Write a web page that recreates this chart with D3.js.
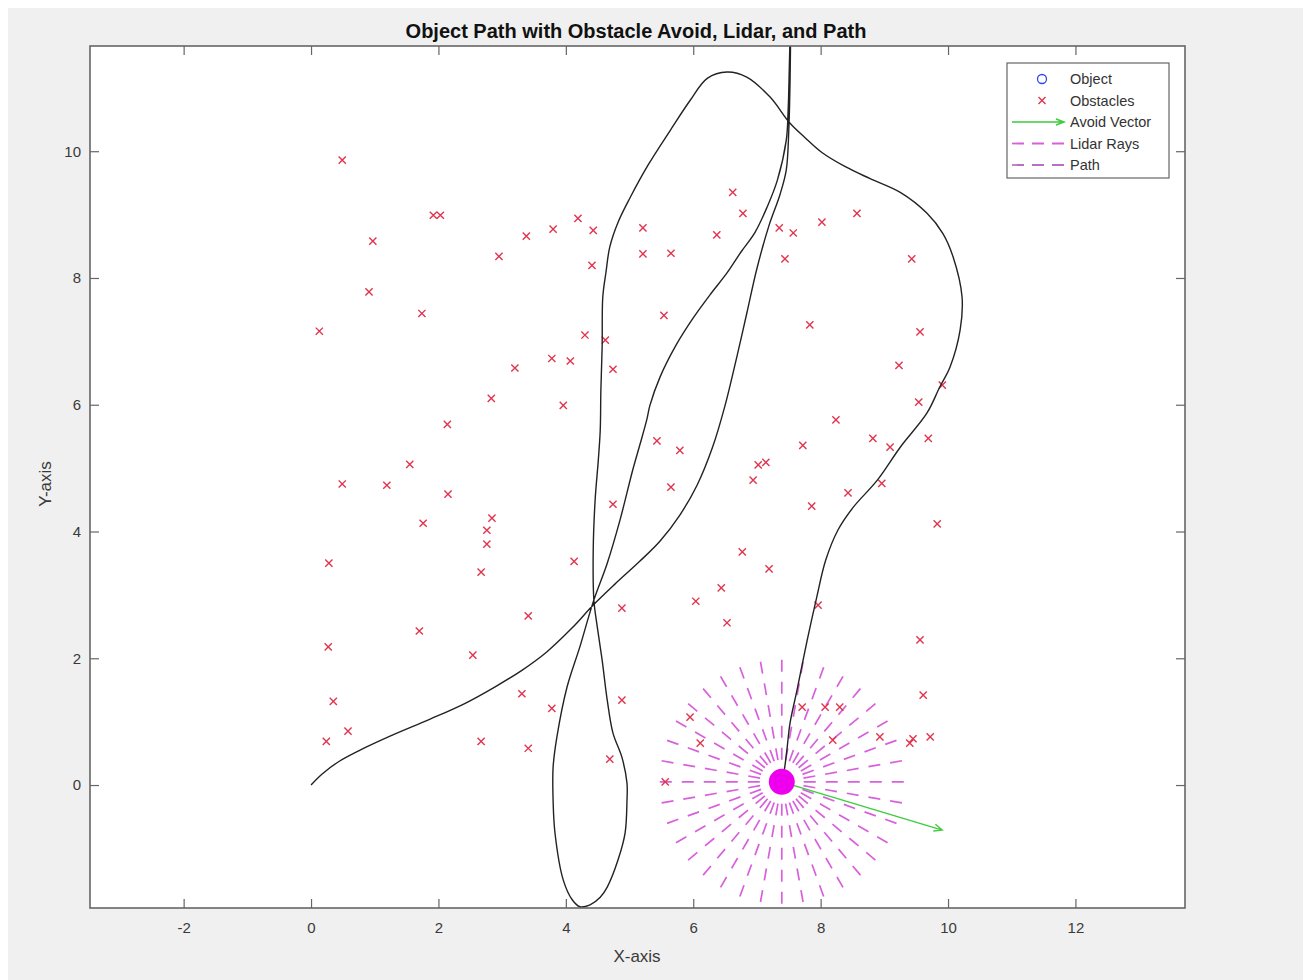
<!DOCTYPE html>
<html><head><meta charset="utf-8">
<script src="https://cdn.jsdelivr.net/npm/d3@7"></script>
<style>body{margin:0;background:#fff;} text{font-family:"Liberation Sans",Arial,sans-serif;}</style>
</head><body><svg id="c" width="1303" height="980"></svg>
<script>
const titleText = "Object Path with Obstacle Avoid, Lidar, and Path";
const xLabel = "X-axis", yLabel = "Y-axis";
const xTicks = [-2, 0, 2, 4, 6, 8, 10, 12];
const yTicks = [0, 2, 4, 6, 8, 10];
const xDomain = [-3.47, 13.72];
const yDomain = [-1.94, 11.66];
const legendLabels = ["Object", "Obstacles", "Avoid Vector", "Lidar Rays", "Path"];

const obsX = [0.49,1.92,2.03,0.97,0.91,1.74,0.13,4.19,3.80,3.38, 2.95,4.43,4.41,5.21,5.21,5.65,6.62,6.78,6.37,7.35, 7.57,7.44,8.02,8.57,9.43,5.54,4.30,4.62,3.78,4.07, 4.74,3.20,2.83,3.96,2.14,7.83,9.56,9.23,9.91,9.54, 8.24,5.43,5.79,7.72,8.82,9.09,9.69,7.02,7.14,6.94, 5.65,4.74,7.86,8.43,8.96,9.83,1.55,0.49,1.19,2.15, 1.76,2.84,2.76,2.76,2.67,0.28,4.13,6.77,7.19,6.44, 6.04,4.88,3.41,6.53,7.96,9.56,1.70,2.54,0.27,0.35, 3.31,4.88,3.78,5.95,7.71,8.07,8.30,9.61,0.58,0.24, 2.67,3.41,4.69,8.93,9.40,9.45,9.72,8.19,5.56,6.11];
const obsY = [9.86,8.99,8.99,8.58,7.78,7.44,7.16,8.94,8.77,8.66, 8.34,8.75,8.20,8.79,8.38,8.39,9.35,9.02,8.68,8.79, 8.71,8.30,8.88,9.02,8.30,7.41,7.10,7.02,6.73,6.69, 6.56,6.58,6.10,5.99,5.69,7.26,7.15,6.62,6.31,6.04, 5.76,5.43,5.28,5.36,5.47,5.33,5.47,5.05,5.09,4.81, 4.70,4.43,4.40,4.61,4.76,4.12,5.06,4.75,4.73,4.59, 4.13,4.21,4.02,3.80,3.36,3.50,3.53,3.68,3.41,3.11, 2.90,2.79,2.67,2.56,2.84,2.29,2.43,2.05,2.18,1.32, 1.44,1.34,1.21,1.07,1.23,1.23,1.23,1.42,0.85,0.69, 0.69,0.58,0.41,0.76,0.66,0.73,0.76,0.71,0.05,0.66];

const pathX = [0,0.17,0.42,0.77,1.24,1.87,2.42,2.89,3.31,3.70,4.10,4.43,4.77,5.16,5.48,5.79,6.06,6.30,6.50,6.69,6.84,7.00,7.19,7.36,7.46,7.50,7.52,7.53,
 7.51,7.49,7.46,7.32,7.16,6.97,6.75,6.53,6.26,6.00,5.73,5.48,5.32,5.27,5.16,5.05,4.85,4.65,4.43,4.22,4.02,3.86,3.80,3.80,3.83,3.96,4.10,4.22,4.38,4.54,4.65,4.82,4.93,4.96,4.96,4.88,4.74,4.65,4.57,4.49,4.44,
 4.43,4.46,4.51,4.54,4.55,4.57,4.58,4.63,4.69,4.82,5.01,5.29,5.64,5.95,6.22,6.53,6.84,7.21,7.52,7.76,8.02,8.38,8.77,9.25,9.67,9.92,10.08,10.22,10.19,10.03,9.87,9.67,9.25,8.89,8.51,8.27,8.08,7.94,7.79,7.63,7.52,7.47,7.43,7.39];
const pathY = [0,0.17,0.36,0.55,0.77,1.04,1.29,1.55,1.81,2.10,2.48,2.84,3.17,3.53,3.85,4.26,4.73,5.32,5.99,6.78,7.44,8.15,8.83,9.31,9.70,10.33,11.12,12.2,
 11.4,10.65,10.17,9.54,9.12,8.72,8.41,8.08,7.73,7.37,6.94,6.44,5.99,5.76,5.36,4.97,4.18,3.50,2.89,2.18,1.55,0.76,0.28,-0.24,-0.76,-1.50,-1.81,-1.92,-1.89,-1.77,-1.61,-1.18,-0.76,-0.24,0.03,0.44,0.82,1.34,1.97,2.52,2.92,
 3.71,4.50,5.13,5.60,6.23,6.91,7.70,8.09,8.49,8.88,9.27,9.78,10.33,10.80,11.15,11.25,11.17,10.85,10.44,10.21,9.98,9.76,9.57,9.35,9.02,8.70,8.33,7.70,7.18,6.59,6.28,5.87,5.33,4.81,4.38,4.02,3.55,2.97,2.29,1.50,0.98,0.55,0.24,0.05];

const objectPos = [7.39, 0.05];
const avoidVector = [2.52, -0.76];
const lidarRange = 2;
const lidarAnglesDeg = [0,10,20,30,40,50,60,70,80,90,100,110,120,130,140,150,160,170,180,190,200,210,220,230,240,250,260,270,280,290,300,310,320,330,340,350];

const W = 1303, H = 980;
const svg = d3.select("#c");
svg.append("rect").attr("x", 8).attr("y", 8).attr("width", W - 8).attr("height", H - 8).attr("fill", "#f0f0f0");

const m = {l: 90, t: 46, r: 1185, b: 908};
const x = d3.scaleLinear().domain(xDomain).range([m.l, m.r]);
const y = d3.scaleLinear().domain(yDomain).range([m.b, m.t]);

svg.append("rect").attr("x", m.l).attr("y", m.t).attr("width", m.r - m.l).attr("height", m.b - m.t).attr("fill", "#fff");
svg.append("defs").append("clipPath").attr("id", "clip").append("rect")
  .attr("x", m.l).attr("y", m.t).attr("width", m.r - m.l).attr("height", m.b - m.t);

const plot = svg.append("g").attr("clip-path", "url(#clip)");

// Lidar rays
const ox = objectPos[0], oy = objectPos[1];
plot.append("g").selectAll("line").data(lidarAnglesDeg).join("line")
  .attr("x1", x(ox)).attr("y1", y(oy))
  .attr("x2", a => x(ox + lidarRange * Math.cos(a * Math.PI / 180)))
  .attr("y2", a => y(oy + lidarRange * Math.sin(a * Math.PI / 180)))
  .attr("stroke", "#d860dc").attr("stroke-width", 1.7).attr("stroke-dasharray", "12,10");

// Obstacles
const obs = obsX.map((v, i) => [v, obsY[i]]);
const s = 3.6;
const og = plot.append("g").attr("stroke", "#e0354f").attr("stroke-width", 1.4);
og.selectAll("path").data(obs).join("path")
  .attr("d", d => `M${x(d[0]) - s},${y(d[1]) - s}L${x(d[0]) + s},${y(d[1]) + s}M${x(d[0]) - s},${y(d[1]) + s}L${x(d[0]) + s},${y(d[1]) - s}`);

// Path
const pts = pathX.map((v, i) => [v, pathY[i]]);
const line = d3.line().x(d => x(d[0])).y(d => y(d[1])).curve(d3.curveCatmullRom.alpha(0.5));
plot.append("path").attr("d", line(pts)).attr("fill", "none").attr("stroke", "#222").attr("stroke-width", 1.4);

// Avoid vector
const vx1 = x(ox), vy1 = y(oy), vx2 = x(ox + avoidVector[0]), vy2 = y(oy + avoidVector[1]);
const ang = Math.atan2(vy2 - vy1, vx2 - vx1);
const hl = 9, ha = 0.4;
plot.append("path")
  .attr("d", `M${vx1},${vy1}L${vx2},${vy2}M${vx2 - hl * Math.cos(ang - ha)},${vy2 - hl * Math.sin(ang - ha)}L${vx2},${vy2}L${vx2 - hl * Math.cos(ang + ha)},${vy2 - hl * Math.sin(ang + ha)}`)
  .attr("fill", "none").attr("stroke", "#3ccc3c").attr("stroke-width", 1.3);

// Object
plot.append("circle").attr("cx", x(ox)).attr("cy", y(oy)).attr("r", 13).attr("fill", "#ee00ee");

// Axes
const axCol = "#666", txtCol = "#3a3a3a";
const fmt = d => String(d);
function style(g) {
  g.select(".domain").remove();
  g.selectAll(".tick line").attr("stroke", axCol).attr("stroke-width", 1.2);
  g.selectAll(".tick text").attr("fill", txtCol).attr("font-size", 15).attr("font-family", "Liberation Sans, Arial, sans-serif");
}
svg.append("g").attr("transform", `translate(0,${m.b})`)
  .call(d3.axisBottom(x).tickValues(xTicks).tickSizeInner(-9).tickSizeOuter(0).tickPadding(14).tickFormat(fmt)).call(style);
svg.append("g").attr("transform", `translate(0,${m.t})`)
  .call(d3.axisTop(x).tickValues(xTicks).tickSizeInner(-9).tickSizeOuter(0).tickFormat("")).call(style);
svg.append("g").attr("transform", `translate(${m.l},0)`)
  .call(d3.axisLeft(y).tickValues(yTicks).tickSizeInner(-9).tickSizeOuter(0).tickPadding(9).tickFormat(fmt)).call(style);
svg.append("g").attr("transform", `translate(${m.r},0)`)
  .call(d3.axisRight(y).tickValues(yTicks).tickSizeInner(-9).tickSizeOuter(0).tickFormat("")).call(style);

svg.append("rect").attr("x", m.l).attr("y", m.t).attr("width", m.r - m.l).attr("height", m.b - m.t)
  .attr("fill", "none").attr("stroke", axCol).attr("stroke-width", 1.6);

// Labels
svg.append("text").attr("x", 636).attr("y", 38).attr("text-anchor", "middle")
  .attr("font-size", 20).attr("font-weight", "bold").attr("fill", "#111").text(titleText);
svg.append("text").attr("x", 637).attr("y", 962).attr("text-anchor", "middle")
  .attr("font-size", 17).attr("fill", txtCol).text(xLabel);
svg.append("text").attr("transform", "translate(51,484) rotate(-90)").attr("text-anchor", "middle")
  .attr("font-size", 17).attr("fill", txtCol).text(yLabel);

// Legend
const lg = svg.append("g");
lg.append("rect").attr("x", 1007).attr("y", 63).attr("width", 162).attr("height", 115)
  .attr("fill", "#fff").attr("stroke", "#666").attr("stroke-width", 1.2);
const rowY = i => 79 + i * 21.5;
legendLabels.forEach((t, i) => {
  lg.append("text").attr("x", 1070).attr("y", rowY(i)).attr("dy", "0.35em")
    .attr("font-size", 14.5).attr("fill", "#333").text(t);
});
lg.append("circle").attr("cx", 1042).attr("cy", rowY(0)).attr("r", 4.5).attr("fill", "none").attr("stroke", "#3344ee").attr("stroke-width", 1.3);
lg.append("path").attr("d", `M${1042 - 3.5},${rowY(1) - 3.5}L${1042 + 3.5},${rowY(1) + 3.5}M${1042 - 3.5},${rowY(1) + 3.5}L${1042 + 3.5},${rowY(1) - 3.5}`)
  .attr("stroke", "#e0354f").attr("stroke-width", 1.4);
lg.append("path").attr("d", `M1012,${rowY(2)}L1064,${rowY(2)}M1056,${rowY(2) - 3}L1064,${rowY(2)}L1056,${rowY(2) + 3}`)
  .attr("fill", "none").attr("stroke", "#3ccc3c").attr("stroke-width", 1.5);
lg.append("line").attr("x1", 1012).attr("x2", 1066).attr("y1", rowY(3)).attr("y2", rowY(3))
  .attr("stroke", "#d860dc").attr("stroke-width", 1.8).attr("stroke-dasharray", "12,8");
lg.append("line").attr("x1", 1012).attr("x2", 1066).attr("y1", rowY(4)).attr("y2", rowY(4))
  .attr("stroke", "#a040b0").attr("stroke-width", 1.3).attr("stroke-dasharray", "12,8");
</script></body></html>
